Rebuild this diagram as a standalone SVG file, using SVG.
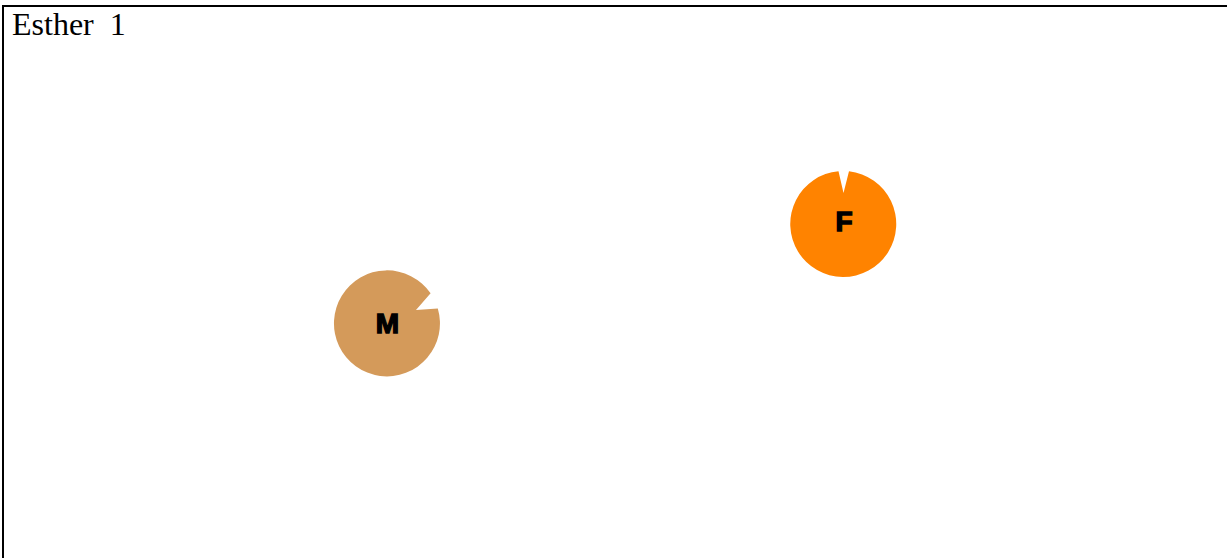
<svg xmlns="http://www.w3.org/2000/svg" width="1227" height="558" viewBox="0 0 1227 558">
<style>
.lbl{font-family:"Liberation Sans",Arial,sans-serif;font-weight:bold;font-size:28px;fill:#000;stroke:#000;stroke-width:1.4;text-anchor:middle}
.title{font-family:"Liberation Serif","Times New Roman",serif;font-size:32px;fill:#000;white-space:pre}
</style>
<rect x="3" y="6" width="1250" height="600" fill="#fff" stroke="#000" stroke-width="2"/>
<text class="title" x="12" y="35" xml:space="preserve">Esther  1</text>
<g id="node-M">
<path d="M416 310 L430.6 293.3 A53 53 0 1 0 437.8 308.4 Z" fill="#D49A5A"/>
<text class="lbl" x="387.5" y="333">M</text>
</g>
<g id="node-F">
<path d="M843.5 193 L849 171.3 A53 53 0 1 1 838.5 171.2 Z" fill="#FF8300"/>
<text class="lbl" x="844" y="231">F</text>
</g>
<g id="connectors"></g>
</svg>
